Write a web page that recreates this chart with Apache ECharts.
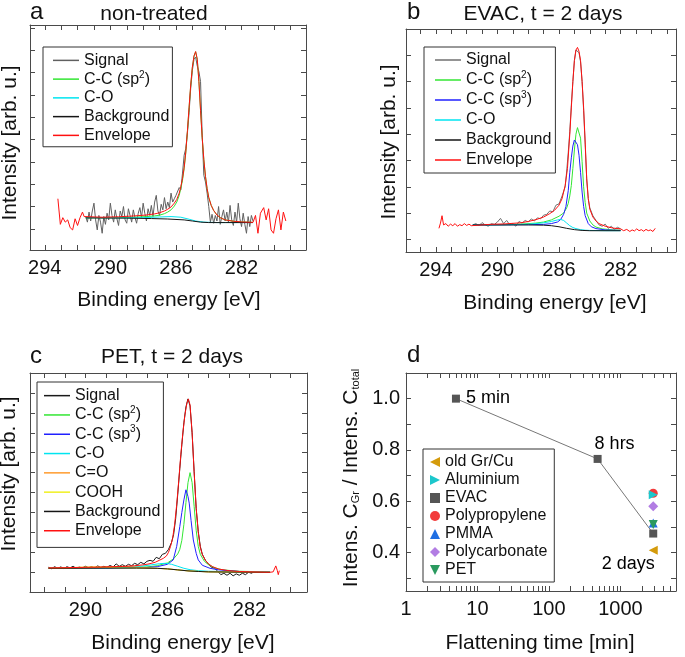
<!DOCTYPE html>
<html>
<head>
<meta charset="utf-8">
<script src="https://cdn.jsdelivr.net/npm/echarts@6/dist/echarts.min.js"></script>
<style>
html, body { margin: 0; padding: 0; background: #fff; }
#main { width: 685px; height: 657px; }
</style>
</head>
<body>
<div id="main"></div>
<script>
// ---- panel a: non-treated (binding energy eV, intensity in tick units)
const aRedLeft = [[293.2,1.35],[293.05,0.2],[292.9,0.5],[292.75,0.3],[292.6,0.4],[292.45,0.05],[292.3,-0.05],[292.15,0.45],[292.0,0.15],[291.85,0.5],[291.7,0.75],[291.6,0.55],[291.5,0.6]];
const aRedRight = [[281.3,0.3],[281.15,0.6],[281.0,-0.2],[280.85,0.7],[280.65,0.95],[280.5,0.4],[280.35,0.9],[280.2,-0.05],[280.05,-0.2],[279.9,0.45],[279.75,0.85],[279.6,-0.05],[279.45,0.75],[279.3,0.35]];
const aEnvelope = [[291.5,0.5],[290.5,0.52],[289.5,0.54],[288.5,0.58],[287.8,0.62],[287.3,0.67],[287.0,0.72],[286.7,0.8],[286.5,0.88],[286.3,0.98],[286.1,1.15],[285.95,1.32],[285.8,1.6],[285.7,1.9],[285.6,2.25],[285.5,2.75],[285.4,3.45],[285.3,4.4],[285.2,5.45],[285.1,6.45],[285.0,7.25],[284.9,7.75],[284.8,7.95],[284.7,7.6],[284.6,6.6],[284.5,5.3],[284.4,4.1],[284.3,3.1],[284.2,2.35],[284.1,1.8],[284.0,1.4],[283.85,1.05],[283.7,0.82],[283.5,0.62],[283.3,0.5],[283.0,0.4],[282.5,0.34],[282.0,0.31],[281.3,0.29]];
const aSp2 = [[291.5,0.49],[289.5,0.5],[288.5,0.52],[287.8,0.55],[287.3,0.58],[287.0,0.61],[286.7,0.68],[286.5,0.75],[286.3,0.85],[286.1,1.02],[285.95,1.2],[285.8,1.5],[285.7,1.82],[285.6,2.18],[285.5,2.7],[285.4,3.4],[285.3,4.36],[285.2,5.42],[285.1,6.43],[285.0,7.23],[284.9,7.74],[284.8,7.94],[284.7,7.6],[284.6,6.6],[284.5,5.3],[284.4,4.1],[284.3,3.1],[284.2,2.35],[284.1,1.8],[284.0,1.4],[283.85,1.05],[283.7,0.82],[283.5,0.62],[283.3,0.5],[283.0,0.4],[282.5,0.34],[282.0,0.31],[281.3,0.29]];
const aCO = [[291.5,0.5],[289.0,0.49],[288.0,0.5],[287.0,0.53],[286.3,0.55],[285.7,0.52],[285.2,0.43],[284.8,0.35],[284.3,0.3],[283.5,0.28],[281.3,0.28]];
const aBackground = [[291.5,0.49],[289.0,0.48],[287.5,0.46],[286.5,0.44],[285.5,0.4],[285.0,0.35],[284.5,0.3],[284.0,0.28],[283.0,0.28],[281.3,0.28]];
const aSignal = [[291.5,0.55],[291.4,0.3],[291.3,0.75],[291.2,0.35],[291.1,0.8],[291.0,1.15],[290.9,0.4],[290.8,-0.05],[290.7,0.6],[290.6,0.3],[290.5,-0.2],[290.4,0.55],[290.3,0.2],[290.2,0.7],[290.1,0.4],[290.0,1.15],[289.9,0.6],[289.8,0.3],[289.7,0.85],[289.6,0.45],[289.5,0.15],[289.4,0.8],[289.3,0.55],[289.2,1.0],[289.1,0.4],[289.0,0.25],[288.9,0.9],[288.8,0.6],[288.7,0.3],[288.6,0.85],[288.5,0.5],[288.4,0.25],[288.3,0.7],[288.2,0.95],[288.1,0.5],[288.0,1.15],[287.9,0.7],[287.8,0.35],[287.7,0.9],[287.6,0.6],[287.5,1.05],[287.4,0.55],[287.3,1.2],[287.2,1.5],[287.1,0.8],[287.0,0.6],[286.9,1.1],[286.8,0.85],[286.7,1.4],[286.6,0.9],[286.5,1.2],[286.4,0.95],[286.3,1.6],[286.2,1.2],[286.1,1.35],[286.0,1.5],[285.9,1.55],[285.8,1.85],[285.7,1.75],[285.6,2.5],[285.5,3.3],[285.4,3.6],[285.3,4.3],[285.2,5.2],[285.1,6.3],[285.0,7.1],[284.9,7.6],[284.8,7.7],[284.7,7.3],[284.6,7.05],[284.5,6.6],[284.4,4.2],[284.3,2.4],[284.2,2.1],[284.1,1.6],[284.0,1.0],[283.9,0.3],[283.8,0.65],[283.7,0.25],[283.6,0.6],[283.5,0.35],[283.4,1.0],[283.3,0.2],[283.2,0.55],[283.1,0.85],[283.0,0.35],[282.9,0.75],[282.8,0.3],[282.7,1.05],[282.6,0.4],[282.5,0.15],[282.4,0.75],[282.3,0.3],[282.2,1.15],[282.1,0.45],[282.0,0.1],[281.9,0.7],[281.8,0.2],[281.7,-0.2],[281.6,0.55],[281.5,0.1],[281.4,0.6],[281.3,0.35]];

// ---- panel b: EVAC, t = 2 days
const bRedLeft = [[293.8,0.42],[293.7,0.62],[293.6,0.9],[293.5,0.55],[293.35,0.6],[293.2,0.5],[293.05,0.58],[292.9,0.52],[292.75,0.6],[292.6,0.5],[292.45,0.56],[292.3,0.52],[292.15,0.6],[292.0,0.53],[291.85,0.58],[291.7,0.52],[291.6,0.57]];
const bRedRight = [[282.0,0.4],[281.8,0.33],[281.6,0.38],[281.4,0.3],[281.25,0.36],[281.1,0.32],[280.95,0.4],[280.8,0.33],[280.65,0.37],[280.5,0.31],[280.35,0.38],[280.2,0.33],[280.05,0.36],[279.9,0.3],[279.75,0.42]];
const bEnvelope = [[291.6,0.57],[290.5,0.57],[289.5,0.59],[288.5,0.63],[288.0,0.68],[287.5,0.75],[287.0,0.85],[286.6,0.98],[286.3,1.1],[286.0,1.3],[285.8,1.55],[285.6,2.05],[285.45,2.7],[285.3,4.0],[285.2,5.0],[285.1,6.0],[285.0,6.8],[284.9,7.2],[284.8,7.3],[284.7,7.15],[284.6,6.8],[284.5,6.0],[284.4,5.0],[284.3,3.7],[284.2,2.3],[284.1,1.55],[284.0,1.15],[283.8,0.85],[283.6,0.7],[283.4,0.6],[283.0,0.5],[282.5,0.43],[282.0,0.4]];
const bSp2 = [[291.6,0.55],[289.5,0.56],[288.5,0.58],[287.5,0.62],[287.0,0.66],[286.5,0.74],[286.0,0.88],[285.7,1.0],[285.5,1.2],[285.4,1.37],[285.3,1.65],[285.2,2.05],[285.1,2.7],[285.0,3.4],[284.9,4.0],[284.8,4.25],[284.7,4.32],[284.6,3.85],[284.5,2.95],[284.4,2.0],[284.3,1.4],[284.2,1.0],[284.0,0.7],[283.8,0.55],[283.6,0.47],[283.2,0.4],[282.5,0.36],[282.0,0.35]];
const bSp3 = [[291.6,0.55],[288.0,0.56],[287.0,0.57],[286.5,0.6],[286.1,0.66],[285.9,0.75],[285.7,0.95],[285.55,1.25],[285.4,1.85],[285.3,2.55],[285.2,3.1],[285.1,3.55],[285.0,3.78],[284.9,3.8],[284.8,3.6],[284.7,3.2],[284.6,2.55],[284.5,1.8],[284.4,1.25],[284.3,0.9],[284.1,0.6],[283.9,0.48],[283.6,0.41],[283.0,0.36],[282.0,0.34]];
const bCO = [[291.6,0.55],[289.0,0.56],[288.0,0.58],[287.5,0.6],[287.0,0.63],[286.5,0.68],[286.1,0.74],[285.9,0.76],[285.7,0.72],[285.5,0.62],[285.3,0.52],[285.1,0.45],[284.9,0.41],[284.6,0.37],[284.3,0.35],[284.0,0.34],[283.0,0.33],[282.0,0.33]];
const bBackground = [[291.6,0.55],[288.0,0.55],[287.0,0.54],[286.5,0.52],[286.0,0.48],[285.5,0.42],[285.0,0.37],[284.5,0.34],[284.0,0.33],[282.0,0.33]];
const bSignal = [[291.6,0.55],[291.4,0.6],[291.2,0.52],[291.0,0.64],[290.8,0.55],[290.6,0.5],[290.4,0.6],[290.2,0.57],[290.0,0.66],[289.8,0.8],[289.6,0.6],[289.4,0.72],[289.2,0.55],[289.0,0.6],[288.8,0.5],[288.6,0.68],[288.4,0.62],[288.2,0.72],[288.0,0.66],[287.8,0.78],[287.6,0.7],[287.4,0.82],[287.2,0.78],[287.0,0.92],[286.8,0.95],[286.6,1.08],[286.4,1.05],[286.2,1.3],[286.0,1.35],[285.8,1.65],[285.6,2.0],[285.5,2.6],[285.4,3.3],[285.3,4.1],[285.2,5.1],[285.1,6.0],[285.0,6.8],[284.9,7.2],[284.8,7.25],[284.7,7.1],[284.6,6.75],[284.5,6.0],[284.4,4.9],[284.3,3.6],[284.2,2.3],[284.1,1.55],[284.0,1.2],[283.8,0.9],[283.6,0.72],[283.4,0.55],[283.2,0.5],[283.0,0.58],[282.8,0.42],[282.6,0.5],[282.4,0.38],[282.2,0.46],[282.0,0.4]];

// ---- panel c: PET, t = 2 days
const cRedRight = [[281.0,0.0],[280.85,0.02],[280.8,-0.06],[280.72,0.32],[280.65,0.1],[280.6,-0.12],[280.55,0.08]];
const cEnvelope = [[291.8,0.22],[291.0,0.23],[290.0,0.25],[289.0,0.27],[288.2,0.29],[287.6,0.33],[287.2,0.37],[286.9,0.42],[286.6,0.5],[286.4,0.6],[286.2,0.7],[286.05,0.82],[285.95,1.0],[285.85,1.3],[285.75,1.7],[285.65,2.4],[285.55,3.4],[285.45,4.6],[285.35,5.9],[285.25,7.0],[285.15,7.9],[285.05,8.5],[284.98,8.7],[284.9,8.4],[284.8,7.0],[284.7,5.0],[284.6,3.2],[284.5,2.0],[284.4,1.25],[284.3,0.88],[284.15,0.6],[284.0,0.42],[283.8,0.28],[283.5,0.16],[283.0,0.08],[282.5,0.04],[282.0,0.02],[281.5,0.01],[281.0,0.0]];
const cSp2 = [[291.8,0.2],[289.0,0.22],[288.0,0.24],[287.0,0.27],[286.5,0.33],[286.0,0.47],[285.7,0.68],[285.5,0.92],[285.4,1.15],[285.3,1.6],[285.2,2.4],[285.1,3.5],[285.0,4.5],[284.9,5.0],[284.8,4.5],[284.7,3.3],[284.6,2.1],[284.5,1.3],[284.4,0.9],[284.2,0.55],[284.0,0.38],[283.7,0.22],[283.3,0.12],[282.5,0.05],[281.0,0.02]];
const cSp3 = [[291.8,0.2],[288.0,0.22],[287.0,0.24],[286.5,0.28],[286.0,0.4],[285.72,0.62],[285.55,1.3],[285.4,2.29],[285.3,3.0],[285.2,3.63],[285.1,4.14],[285.0,3.8],[284.94,3.47],[284.85,2.6],[284.74,1.62],[284.6,0.95],[284.5,0.62],[284.3,0.35],[283.93,0.2],[283.5,0.12],[282.5,0.04],[281.0,0.02]];
const cCO = [[291.8,0.2],[289.0,0.22],[288.0,0.25],[287.3,0.3],[286.8,0.37],[286.4,0.43],[286.1,0.45],[285.8,0.4],[285.5,0.3],[285.2,0.2],[284.9,0.13],[284.5,0.08],[284.0,0.05],[283.0,0.03],[281.0,0.02]];
const cCdO = [[291.8,0.2],[290.5,0.21],[289.5,0.23],[288.8,0.27],[288.3,0.3],[287.8,0.28],[287.3,0.24],[286.8,0.21],[286.0,0.17],[285.0,0.07],[284.0,0.02],[281.0,0.0]];
const cCOOH = [[291.8,0.2],[291.0,0.22],[290.3,0.25],[289.6,0.27],[289.0,0.25],[288.4,0.22],[287.5,0.21],[286.5,0.2],[286.0,0.17],[285.0,0.07],[284.0,0.02],[281.0,0.0]];
const cBackground = [[291.8,0.2],[289.0,0.21],[287.5,0.21],[286.5,0.2],[286.0,0.17],[285.5,0.12],[285.0,0.07],[284.5,0.04],[284.0,0.02],[283.0,0.01],[281.0,0.0]];
const cSignal = [[291.8,0.25],[291.65,0.18],[291.5,0.28],[291.35,0.2],[291.2,0.27],[291.05,0.19],[290.9,0.28],[290.75,0.22],[290.6,0.3],[290.45,0.2],[290.3,0.26],[290.15,0.22],[290.0,0.3],[289.85,0.23],[289.7,0.28],[289.55,0.22],[289.4,0.32],[289.25,0.24],[289.1,0.3],[288.95,0.25],[288.8,0.34],[288.65,0.27],[288.5,0.42],[288.35,0.3],[288.2,0.38],[288.05,0.3],[287.9,0.4],[287.75,0.33],[287.6,0.45],[287.45,0.38],[287.3,0.5],[287.15,0.42],[287.0,0.55],[286.85,0.6],[286.7,0.55],[286.55,0.75],[286.4,0.68],[286.25,0.9],[286.1,0.95],[285.95,1.15],[285.8,1.5],[285.7,1.9],[285.6,2.7],[285.5,3.9],[285.4,5.2],[285.3,6.4],[285.2,7.5],[285.1,8.3],[285.0,8.7],[284.9,8.35],[284.8,7.0],[284.7,5.05],[284.6,3.2],[284.5,2.05],[284.4,1.3],[284.3,0.9],[284.15,0.6],[284.0,0.4],[283.85,0.25],[283.7,0.2],[283.55,0.05],[283.4,-0.12],[283.25,-0.05],[283.1,-0.15],[282.95,-0.05],[282.8,-0.18],[282.65,-0.08],[282.5,-0.15],[282.35,-0.05],[282.2,-0.12],[282.05,0.0],[281.9,-0.05],[281.8,0.02]];

// ---- panel d: flattening time (min) vs intensity ratio
const dEvacTime = [5, 480, 2880];
const dEvacRatio = [1.0, 0.765, 0.474];
const dEvacLabels = ['5 min', '8 hrs', '2 days'];
const dSubstrates = ['old Gr/Cu', 'Aluminium', 'EVAC', 'Polypropylene', 'PMMA', 'Polycarbonate', 'PET'];
const dTime2d = 2880;
const dRatio2d = [0.409, 0.625, null, 0.631, 0.515, 0.58, 0.509];

// ---- tick positions
const aXTicks = [279,280,281,282,283,284,285,286,287,288,289,290,291,292,293,294];
const bXTicks = [279,280,281,282,283,284,285,286,287,288,289,290,291,292,293,294,295];
const cXTicks = [280,281,282,283,284,285,286,287,288,289,290,291,292];
const aXLabels = [282, 286, 290, 294];
const bXLabels = [282, 286, 290, 294];
const cXLabels = [282, 286, 290];
const aYTicks = [0,1,2,3,4,5,6,7,8,9];
const bYTicks = [0,1,2,3,4,5,6,7];
const cYTicks = [0,1,2,3,4,5,6,7,8,9];
const dXTicks = [1,2,3,4,5,6,7,8,9,10,20,30,40,50,60,70,80,90,100,200,300,400,500,600,700,800,900,1000,2000,3000,4000,5000,6000];
const dXLabels = [1, 10, 100, 1000];
const dYTicks = [0.3,0.4,0.5,0.6,0.7,0.8,0.9,1.0,1.1];
const dYLabels = [0.4, 0.6, 0.8, 1.0];

const FONT = "'Liberation Sans', Arial, sans-serif";
const AX = '#4a4a4a';
const COL = {sig: '#606060', sp2: '#33e633', sp3: '#2020ff', co: '#00e5f0', cdo: '#ff9b2e', cooh: '#f0f020', bg: '#151515', env: '#ff1010'};

const chart = echarts.init(document.getElementById('main'));

function xPair(gi, opts, ticks, labels) {
  const base = Object.assign({
    gridIndex: gi,
    splitLine: {show: false},
    axisLine: {show: true, onZero: false, lineStyle: {color: AX, width: 1}},
    axisTick: {show: true, inside: true, length: 5, customValues: ticks, lineStyle: {color: AX}}
  }, opts);
  const bottom = Object.assign({}, base, {
    position: 'bottom',
    axisLabel: {show: true, customValues: labels, margin: 8, fontSize: 20, color: '#111', fontFamily: FONT,
      formatter: v => String(v)}
  });
  const top = Object.assign({}, base, {position: 'top', axisLabel: {show: false}});
  return [bottom, top];
}

function yPair(gi, opts, ticks, label) {
  const base = Object.assign({
    gridIndex: gi,
    type: 'value',
    splitLine: {show: false},
    axisLine: {show: true, onZero: false, lineStyle: {color: AX, width: 1}},
    axisTick: {show: true, inside: true, length: 5, customValues: ticks, lineStyle: {color: AX}}
  }, opts);
  const left = Object.assign({}, base, {position: 'left', axisLabel: label || {show: false}});
  const right = Object.assign({}, base, {position: 'right', axisLabel: {show: false}});
  return [left, right];
}

const xAxes = [].concat(
  xPair(0, {type: 'value', inverse: true, min: 278.07, max: 294.9}, aXTicks, aXLabels),
  xPair(1, {type: 'value', inverse: true, min: 278.4, max: 295.94}, bXTicks, bXLabels),
  xPair(2, {type: 'value', inverse: true, min: 279.2, max: 292.7}, cXTicks, cXLabels),
  xPair(3, {type: 'log', logBase: 10, min: 1, max: 6000}, dXTicks, dXLabels)
);
const yAxes = [].concat(
  yPair(0, {min: -0.95, max: 9.14}, aYTicks),
  yPair(1, {min: -0.48, max: 8.0}, bYTicks),
  yPair(2, {min: -0.99, max: 10.0}, cYTicks),
  yPair(3, {min: 0.25, max: 1.1}, dYTicks, {
    show: true, customValues: dYLabels, margin: 6, fontSize: 20, color: '#111', fontFamily: FONT,
    formatter: v => Number(v).toFixed(1)
  })
);

function spec(gi, name, data, color) {
  return {
    name: name, type: 'line', xAxisIndex: gi * 2, yAxisIndex: gi * 2,
    data: data, symbol: 'none', showSymbol: false, silent: true, animation: false,
    lineStyle: {color: color, width: 1}, itemStyle: {color: color}
  };
}

const series = [
  spec(0, 'a-Signal', aSignal, COL.sig),
  spec(0, 'a-C-C (sp2)', aSp2, COL.sp2),
  spec(0, 'a-C-O', aCO, COL.co),
  spec(0, 'a-Background', aBackground, COL.bg),
  spec(0, 'a-Envelope', aRedLeft.concat(aEnvelope, aRedRight), COL.env),

  spec(1, 'b-Signal', bSignal, '#707070'),
  spec(1, 'b-C-C (sp2)', bSp2, COL.sp2),
  spec(1, 'b-C-C (sp3)', bSp3, COL.sp3),
  spec(1, 'b-C-O', bCO, COL.co),
  spec(1, 'b-Background', bBackground, COL.bg),
  spec(1, 'b-Envelope', bRedLeft.concat(bEnvelope, bRedRight), COL.env),

  spec(2, 'c-Signal', cSignal, '#1a1a1a'),
  spec(2, 'c-C-C (sp2)', cSp2, COL.sp2),
  spec(2, 'c-C-C (sp3)', cSp3, COL.sp3),
  spec(2, 'c-C-O', cCO, COL.co),
  spec(2, 'c-C=O', cCdO, COL.cdo),
  spec(2, 'c-COOH', cCOOH, COL.cooh),
  spec(2, 'c-Background', cBackground, COL.bg),
  spec(2, 'c-Envelope', cEnvelope.concat(cRedRight), COL.env)
];

// panel d
series.push({
  name: 'EVAC-line', type: 'line', xAxisIndex: 6, yAxisIndex: 6, symbol: 'none', silent: true, animation: false,
  data: dEvacTime.map((t, i) => [t, dEvacRatio[i]]),
  lineStyle: {color: '#777', width: 1}, z: 2
});
const labelPos = [
  {position: 'right', distance: 6, offset: [0, -1]},
  {position: 'top', distance: 2, offset: [17, 0]},
  {position: 'bottom', distance: 17, offset: [-25, 0]}
];
const TRI_LEFT = 'path://M0,5L10,0L10,10Z';
const TRI_RIGHT = 'path://M10,5L0,0L0,10Z';
const TRI_DOWN = 'path://M0,0L10,0L5,10Z';
const dStyle = {
  'old Gr/Cu': {symbol: TRI_LEFT, size: 9, color: '#d49b0c', z: 3},
  'Aluminium': {symbol: TRI_RIGHT, size: 9, color: '#1cc7cc', z: 5},
  'EVAC': {symbol: 'rect', size: 8, color: '#555555', z: 3},
  'Polypropylene': {symbol: 'circle', size: 9, color: '#f23b3b', z: 4},
  'PMMA': {symbol: 'triangle', size: 9, color: '#1f6fe3', z: 3},
  'Polycarbonate': {symbol: 'diamond', size: 10, color: '#b27de3', z: 3},
  'PET': {symbol: TRI_DOWN, size: 9, color: '#2a9a5f', z: 4}
};
dSubstrates.forEach((name, i) => {
  const st = dStyle[name];
  let data;
  if (name === 'EVAC') {
    data = dEvacTime.map((t, k) => ({
      value: [t, dEvacRatio[k]],
      label: Object.assign({show: true, formatter: dEvacLabels[k], fontSize: 18, color: '#000',
        textBorderWidth: 0, opacity: 1, fontFamily: FONT}, labelPos[k])
    }));
  } else {
    data = [[dTime2d, dRatio2d[i]]];
  }
  series.push({
    name: name, type: 'scatter', xAxisIndex: 6, yAxisIndex: 6, data: data,
    symbol: st.symbol, symbolSize: st.size,
    itemStyle: {color: st.color, opacity: 1}, z: st.z, silent: true, animation: false
  });
});

const supRich = {sup: {fontSize: 10, verticalAlign: 'top', lineHeight: 12, fontFamily: FONT, color: '#111'}};
function specLegend(prefix, left, top, rowH, padding) {
  return {
    orient: 'vertical', left: left, top: top, padding: padding,
    icon: 'rect', itemWidth: 26, itemHeight: 1.5, itemGap: 0, selectedMode: false,
    borderColor: '#333', borderWidth: 1,
    textStyle: {fontSize: 16, fontFamily: FONT, color: '#111', lineHeight: rowH, rich: supRich},
    data: series.filter(s => s.name.indexOf(prefix + '-') === 0).map(s => s.name),
    formatter: n => n.slice(2).replace(/sp(\d)/, 'sp{sup|$1}')
  };
}

const legends = [
  specLegend('a', 43, 47, 18.75, [4, 3, 2, 10]),
  specLegend('b', 424, 47, 20, [3, 4, 3, 11]),
  specLegend('c', 37, 382, 19.3, [4, 3, 7, 7]),
  {
    orient: 'vertical', left: 423, top: 449, padding: [4, 7, 3, 7],
    itemWidth: 10, itemHeight: 10, itemGap: 0, selectedMode: false,
    borderColor: '#333', borderWidth: 1,
    textStyle: {fontSize: 16, fontFamily: FONT, color: '#111', lineHeight: 18},
    data: dSubstrates
  }
];

function txt(text, x, y, size, align, rot, rich) {
  const o = {
    type: 'text', x: x, y: y, rotation: rot || 0, silent: true,
    style: {text: text, fontSize: size, fontFamily: FONT, fill: '#111', align: align || 'center', verticalAlign: 'middle'}
  };
  if (rich) o.style.rich = rich;
  return o;
}
const R = Math.PI / 2;
const graphics = [
  txt('a', 30, 12, 24, 'left'),
  txt('non-treated', 154, 14, 21),
  txt('b', 407, 12, 24, 'left'),
  txt('EVAC, t = 2 days', 543, 14, 21),
  txt('c', 30, 356, 24, 'left'),
  txt('PET, t = 2 days', 172, 357, 21),
  txt('d', 407, 355, 24, 'left'),
  txt('Binding energy [eV]', 169, 300, 21),
  txt('Binding energy [eV]', 555, 303, 21),
  txt('Binding energy [eV]', 183, 643, 21),
  txt('Flattening time [min]', 540, 643, 21),
  txt('Intensity [arb. u.]', 10, 143, 21, 'center', R),
  txt('Intensity [arb. u.]', 389, 142, 21, 'center', R),
  txt('Intensity [arb. u.]', 9, 474, 21, 'center', R),
  txt('Intens. C{sub|Gr} / Intens. C{sub|total}', 351, 478, 21, 'center', R, {
    sub: {fontSize: 11, verticalAlign: 'bottom', lineHeight: 12, fontFamily: FONT, fill: '#111'}
  })
];

chart.setOption({
  animation: false,
  textStyle: {fontFamily: FONT},
  grid: [
    {left: 30, top: 25, width: 276, height: 225},
    {left: 406, top: 29, width: 270, height: 223},
    {left: 30, top: 373, width: 277, height: 219},
    {left: 406, top: 373, width: 270, height: 218}
  ],
  xAxis: xAxes,
  yAxis: yAxes,
  legend: legends,
  graphic: graphics,
  series: series
});
</script>
</body>
</html>
